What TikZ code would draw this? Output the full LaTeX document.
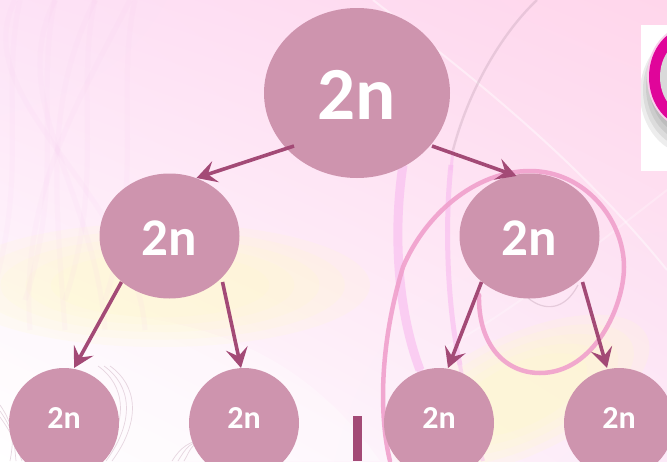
\documentclass[tikz,border=0pt]{standalone}
\usepackage{fontspec}
\setmainfont{Carlito}
\usetikzlibrary{arrows.meta,shapes.geometric,calc,shadings}
\definecolor{nodepink}{HTML}{CE94AE}
\definecolor{plum}{HTML}{A34A76}
\definecolor{curl}{HTML}{F0A0CC}
\definecolor{strand}{HTML}{F9BDF0}
\definecolor{wisp}{HTML}{C9A9BC}
\definecolor{ring}{HTML}{E0059A}
\definecolor{glow}{HTML}{FFFFC4}
\definecolor{bgul}{HTML}{FDE2F6}
\definecolor{bgur}{HTML}{FFD6EB}
\definecolor{bgll}{HTML}{FFFFFF}
\definecolor{bglr}{HTML}{FCEAF8}
\tikzset{
 treenode/.style={ellipse,fill=nodepink,text=white,inner sep=0pt,font=\bfseries},
 bignode/.style={treenode,minimum width=186pt,minimum height=170pt,text height=53pt,text depth=0pt,font=\fontsize{75pt}{75pt}\selectfont\bfseries},
 midnode/.style={treenode,minimum width=140pt,minimum height=125pt,text height=38pt,text depth=0pt,font=\fontsize{53pt}{53pt}\selectfont\bfseries},
 leafnode/.style={treenode,minimum width=110pt,minimum height=110pt,text height=20pt,text depth=10pt,font=\fontsize{32pt}{32pt}\selectfont\bfseries},
 link/.style={draw=plum,line width=3.6pt,-{Stealth[length=20pt,width=22pt,inset=8pt]}},
 curlline/.style={draw=curl,line width=4.5pt,line cap=round,opacity=.9},
 hair/.style={draw=wisp,line width=.7pt,opacity=.45},
 faint/.style={draw=strand,line width=5pt,opacity=.07}
}
\begin{document}
\begin{tikzpicture}[x=1pt,y=-1pt]
\useasboundingbox (0,0) rectangle (667,461);
\begin{scope}
\clip (0,0) rectangle (667,461);
\shade[upper left=bgul,upper right=bgur,lower left=bgll,lower right=bglr] (0,0) rectangle (667,461);
\fill[white,opacity=.35] (0,461) -- (0,310) .. controls (150,310) and (280,320) .. (380,461) -- cycle;
% yellow glow
\foreach \k in {1,.88,.76,.64,.52}{
 \fill[glow,opacity=.14] (160,285) ellipse ({210*\k} and {62*\k});
 \fill[glow,opacity=.16,rotate around={25:(520,395)}] (520,395) ellipse ({140*\k} and {60*\k});
}
% faint strands
\foreach \a in {0,35,75,115}{
 \draw[faint] (20+\a,0) .. controls (\a,90) and (30+\a,180) .. (\a-10,300);
 \draw[faint] (130-\a,0) .. controls (80-\a,100) and (20+\a,190) .. (\a+30,330);
}
\draw[draw=white,line width=2pt,opacity=.45] (373,0) .. controls (450,60) and (570,150) .. (667,270);
\draw[draw=white,line width=2pt,opacity=.25] (667,190) .. controls (590,250) and (500,320) .. (440,350);
% vertical strands
\draw[strand,line width=9pt,opacity=.65] (403,165) .. controls (393,230) and (397,310) .. (420,370);
\draw[strand,line width=6pt,opacity=.6] (420,370) .. controls (428,400) and (436,430) .. (445,461);
\draw[strand,line width=5pt,opacity=.65] (451,165) .. controls (444,230) and (448,310) .. (460,365);
\draw[strand,line width=4pt,opacity=.5] (460,365) .. controls (466,400) and (474,430) .. (483,461);
\draw[wisp,line width=2.4pt,opacity=.4] (537,0) .. controls (505,30) and (470,85) .. (453,150);
\draw[strand,line width=3pt,opacity=.6] (453,150) -- (451,170);
% big curl
\draw[curlline] (390,461) .. controls (380,420) and (378,350) .. (403,267) .. controls (425,215) and (475,171) .. (530,171)
  .. controls (585,171) and (624,220) .. (624,267) .. controls (624,305) and (595,373) .. (540,373)
  .. controls (505,373) and (478,345) .. (479,295);
\draw[hair,line width=1.2pt] (528,298) .. controls (545,312) and (565,310) .. (578,285);
% thin hairs
\foreach \d in {0,6,12}{
 \draw[hair] (98+\d,366) .. controls (125+\d,385) and (130+\d,420) .. (100+\d,461);
 \draw[hair] (0,405+\d) .. controls (14,425+\d) and (14,440) .. (10+\d,461);
 \draw[hair] (172+\d,461) .. controls (180+\d,448) and (190,440) .. (205+\d,440);
}
\end{scope}
% logo fragment
\fill[white] (641,25) rectangle (667,171);
\begin{scope}
\clip (641,25) rectangle (667,171);
\foreach \k in {0,3,6,9}{
 \fill[black,opacity=.07] (692,{84+\k}) ellipse ({43+\k} and {53+\k});
}
\fill[white!80!ring] (690,77) ellipse (43 and 52);
\fill[ring] (690,77) ellipse (41 and 50);
\fill[white!85!black] (690,77) ellipse (30 and 38);
\end{scope}
\node[bignode] (root) at (357,93) {2n};
\node[midnode] (l) at (169.5,236) {2n};
\node[midnode] (r) at (529.5,236) {2n};
\node[leafnode] (ll) at (64,423) {2n};
\node[leafnode] (lr) at (244,423) {2n};
\node[leafnode] (rl) at (439,423) {2n};
\node[leafnode] (rr) at (619,423) {2n};
\path[link] ($(root)+(-63,53)$) -- ($(l)+(27,-58)$);
\path[link] ($(root)+(75,53)$) -- ($(r)+(-13,-60)$);
\path[link] ($(l)+(-48,46)$) -- ($(ll)+(10,-55)$);
\path[link] ($(l)+(53,46)$) -- ($(lr)+(-3,-55)$);
\path[link] ($(r)+(-48,46)$) -- ($(rl)+(9,-55)$);
\path[link] ($(r)+(53,46)$) -- ($(rr)+(-12,-55)$);
\coordinate (barbottom) at (357.5,461);
\coordinate (bartop) at (357.5,416);
\draw[plum,line width=9pt] (bartop) -- (barbottom);
\end{tikzpicture}
\end{document}
